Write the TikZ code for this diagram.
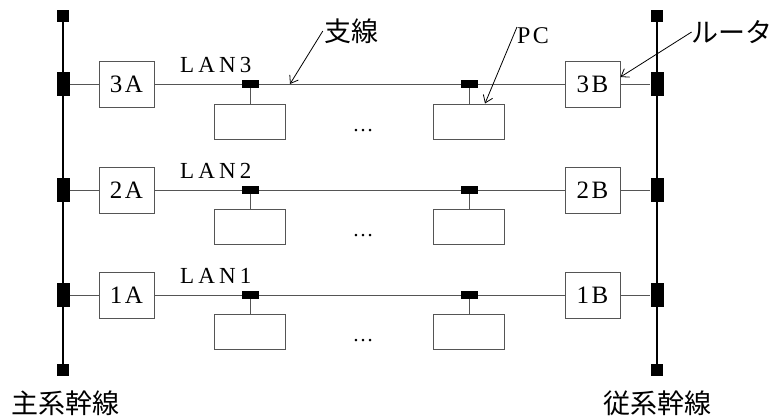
\documentclass[tikz,border=0pt]{standalone}
\usepackage{fontspec}
\setmainfont{Liberation Serif}
\newfontfamily\cjk{Noto Sans CJK JP}
\newfontfamily\wideSerif[LetterSpace=18]{Liberation Serif}
\newfontfamily\boxSerif[LetterSpace=10]{Liberation Serif}
\definecolor{lineGray}{RGB}{85, 85, 85}
\usetikzlibrary{arrows.meta, calc}

\begin{document}
\begin{tikzpicture}[
    x=1pt, y=-1pt,
    trunk/.style={line width=2pt},
    lan/.style={draw=lineGray, line width=1pt},
    router/.style={rectangle, draw=lineGray, line width=1pt, minimum width=55pt,
                   minimum height=46pt, inner sep=0pt, fill=white,
                   font=\fontsize{25}{25}\selectfont\boxSerif},
    pcbox/.style={rectangle, draw=lineGray, line width=1pt, minimum width=71pt,
                  minimum height=35pt, inner sep=0pt},
    tap/.style={rectangle, fill=black, minimum width=17pt, minimum height=8pt, inner sep=0pt},
    joint/.style={rectangle, fill=black, minimum width=13pt, minimum height=24pt, inner sep=0pt},
    endcap/.style={rectangle, fill=black, minimum size=12pt, inner sep=0pt},
    lanlabel/.style={font=\fontsize{23}{23}\selectfont\wideSerif, inner sep=0pt},
    jlabel/.style={font=\fontsize{27}{27}\selectfont\cjk, inner sep=1pt},
    dots/.style={font=\fontsize{21}{21}\selectfont, inner sep=0pt, anchor=base},
    callout/.style={-{Straight Barb[length=7pt,width=10pt]}, line width=0.8pt},
  ]
    \useasboundingbox (0,0) rectangle (773,418);

    % Trunks
    \node[endcap] (TOPA) at (63,16) {};
    \node[endcap] (BOTA) at (63,370) {};
    \node[endcap] (TOPB) at (657,16) {};
    \node[endcap] (BOTB) at (657,370) {};
    \draw[trunk] (TOPA) -- (BOTA);
    \draw[trunk] (TOPB) -- (BOTB);
    \node[jlabel] (MAIN) at (65,403) {主系幹線};
    \node[jlabel] (SUB) at (657,403) {従系幹線};

    % LAN3
    \node[joint] (J3A) at (63,84) {};
    \node[joint] (J3B) at (657,84) {};
    \node[router] (R3A) at (126.5,84) {3A};
    \node[router] (R3B) at (592.5,84) {3B};
    \draw[lan] (J3A) -- (R3A) (R3A) -- (R3B) (R3B) -- (J3B);
    \node[tap] (T3a) at (250,84) {};
    \node[tap] (T3b) at (469,84) {};
    \node[pcbox] (P3a) at (250,121.5) {};
    \node[pcbox] (P3b) at (469,121.5) {};
    \draw[lan] (T3a) -- (P3a) (T3b) -- (P3b);
    \node[dots] (D3) at (363,131.5) {\ldots};
    \node[lanlabel, anchor=base west] (LAN3) at (180,72) {LAN3};

    % LAN2
    \node[joint] (J2A) at (63,190) {};
    \node[joint] (J2B) at (657,190) {};
    \node[router] (R2A) at (126.5,190) {2A};
    \node[router] (R2B) at (592.5,190) {2B};
    \draw[lan] (J2A) -- (R2A) (R2A) -- (R2B) (R2B) -- (J2B);
    \node[tap] (T2a) at (250,190) {};
    \node[tap] (T2b) at (469,190) {};
    \node[pcbox] (P2a) at (250,227) {};
    \node[pcbox] (P2b) at (469,227) {};
    \draw[lan] (T2a) -- (P2a) (T2b) -- (P2b);
    \node[dots] (D2) at (363,236.5) {\ldots};
    \node[lanlabel, anchor=base west] (LAN2) at (180,178) {LAN2};

    % LAN1
    \node[joint] (J1A) at (63,295) {};
    \node[joint] (J1B) at (657,295) {};
    \node[router] (R1A) at (126.5,295) {1A};
    \node[router] (R1B) at (592.5,295) {1B};
    \draw[lan] (J1A) -- (R1A) (R1A) -- (R1B) (R1B) -- (J1B);
    \node[tap] (T1a) at (250,295) {};
    \node[tap] (T1b) at (469,295) {};
    \node[pcbox] (P1a) at (250,331.5) {};
    \node[pcbox] (P1b) at (469,331.5) {};
    \draw[lan] (T1a) -- (P1a) (T1b) -- (P1b);
    \node[dots] (D1) at (363,341.5) {\ldots};
    \node[lanlabel, anchor=base west] (LAN1) at (180,283) {LAN1};

    % Callouts
    \node[jlabel] (BRANCH) at (351,31) {支線};
    \coordinate (BRANCHtip) at (290,84);
    \draw[callout] (BRANCH.west) -- (BRANCHtip);
    \node[font=\fontsize{24}{24}\selectfont\boxSerif, inner sep=0pt, anchor=base west]
         (PCL) at (517,43) {PC};
    \coordinate (PCtip) at ($(P3b.north)+(16,0)$);
    \draw[callout] (PCL.north west) -- (PCtip);
    \node[jlabel, inner sep=0pt, anchor=east] (ROUTER) at (773,32) {ルータ};
    \coordinate (ROUTERtip) at ($(R3B.east)+(0,-7)$);
    \draw[callout] (ROUTER.west) -- (ROUTERtip);
  \end{tikzpicture}
\end{document}
